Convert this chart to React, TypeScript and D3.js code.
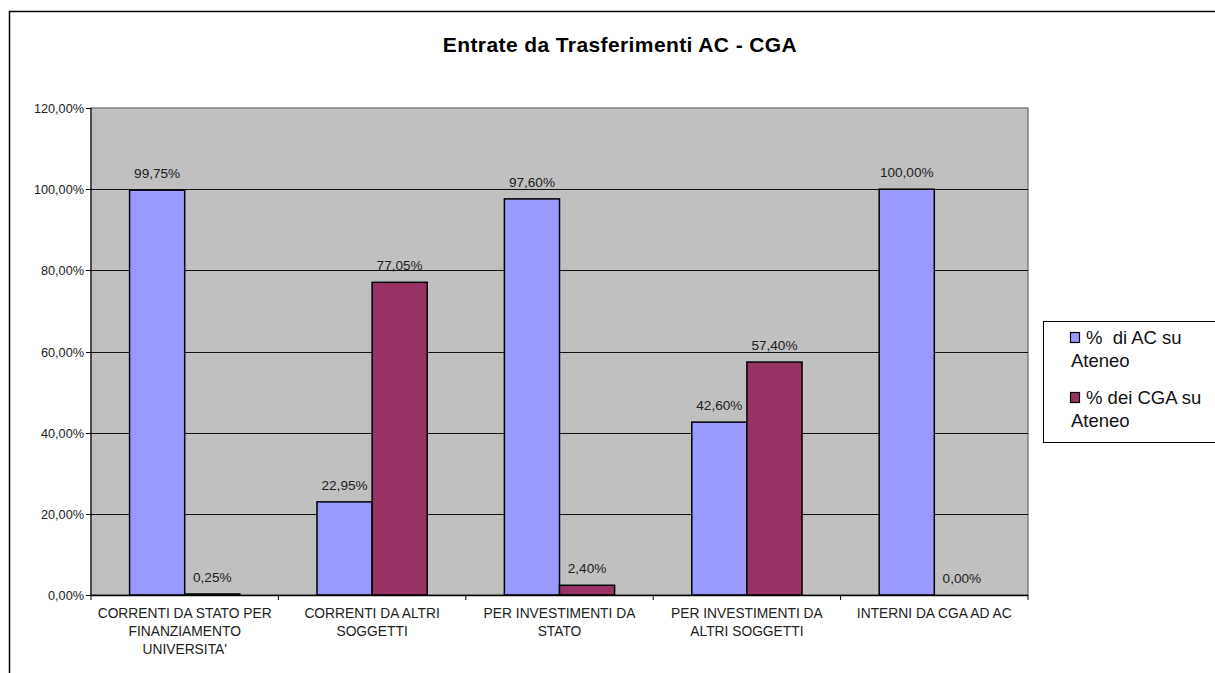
import { useEffect, useRef } from 'react';
import * as d3 from 'd3';

const categories = [
  'CORRENTI DA STATO PER FINANZIAMENTO UNIVERSITA\'',
  'CORRENTI DA ALTRI SOGGETTI',
  'PER INVESTIMENTI DA STATO',
  'PER INVESTIMENTI DA ALTRI SOGGETTI',
  'INTERNI DA CGA AD AC',
];
const categoryLines = [
  ['CORRENTI DA STATO PER', 'FINANZIAMENTO', 'UNIVERSITA\''],
  ['CORRENTI DA ALTRI', 'SOGGETTI'],
  ['PER INVESTIMENTI DA', 'STATO'],
  ['PER INVESTIMENTI DA', 'ALTRI SOGGETTI'],
  ['INTERNI DA CGA AD AC'],
];
const seriesNames = ['% di AC su Ateneo', '% dei CGA su Ateneo'];
const legendLines = [['%  di AC su', 'Ateneo'], ['% dei CGA su', 'Ateneo']];
const acValues = [99.75, 22.95, 97.6, 42.6, 100.0];
const cgaValues = [0.25, 77.05, 2.4, 57.4, 0.0];
const yTicks = [0, 20, 40, 60, 80, 100, 120];

const COLORS = ['#9999ff', '#993366'];
const FONT = 'Arial, "Liberation Sans", sans-serif';

const fmt = (v: number) => v.toFixed(2).replace('.', ',') + '%';

export default function App() {
  const svgRef = useRef<SVGSVGElement>(null);

  useEffect(() => {
    if (!svgRef.current) return;
    const width = 1215;
    const height = 673;
    const svg = d3.select(svgRef.current);
    svg.selectAll('*').remove();
    svg.attr('width', width).attr('height', height).style('font-family', FONT);

    // outer chart frame
    svg.append('rect')
      .attr('x', 9.5).attr('y', 11.5)
      .attr('width', 1220).attr('height', 680)
      .attr('fill', '#fff').attr('stroke', '#000').attr('stroke-width', 1.5);

    svg.append('text')
      .attr('x', 620).attr('y', 52)
      .attr('text-anchor', 'middle')
      .attr('font-size', 21).attr('font-weight', 'bold')
      .attr('letter-spacing', 0.4)
      .text('Entrate da Trasferimenti AC - CGA');

    const plot = { left: 91, right: 1028, top: 108, bottom: 595 };

    const x = d3.scaleBand<string>()
      .domain(categories)
      .range([plot.left, plot.right]);
    const xInner = d3.scaleBand<number>()
      .domain([0, 1])
      .range([0, x.bandwidth()])
      .paddingOuter(0.7);
    const y = d3.scaleLinear().domain([0, 120]).range([plot.bottom, plot.top]);

    svg.append('rect')
      .attr('x', plot.left).attr('y', plot.top)
      .attr('width', plot.right - plot.left).attr('height', plot.bottom - plot.top)
      .attr('fill', '#c0c0c0').attr('stroke', '#808080').attr('stroke-width', 1.5);

    // gridlines
    svg.append('g')
      .selectAll('line')
      .data(yTicks.filter(t => t > 0 && t < 120))
      .enter()
      .append('line')
      .attr('x1', plot.left).attr('x2', plot.right)
      .attr('y1', d => Math.round(y(d)) + 0.5).attr('y2', d => Math.round(y(d)) + 0.5)
      .attr('stroke', '#111').attr('stroke-width', 1);

    // bars
    const series = [acValues, cgaValues];
    series.forEach((vals, si) => {
      svg.append('g')
        .selectAll('rect')
        .data(vals)
        .enter()
        .append('rect')
        .attr('x', (_, i) => x(categories[i])! + xInner(si)!)
        .attr('y', d => y(d))
        .attr('width', xInner.bandwidth())
        .attr('height', d => plot.bottom - y(d))
        .attr('fill', COLORS[si])
        .attr('stroke', '#000').attr('stroke-width', 1.5);

      svg.append('g')
        .selectAll('text')
        .data(vals)
        .enter()
        .append('text')
        .attr('x', (_, i) => x(categories[i])! + xInner(si)! + xInner.bandwidth() / 2)
        .attr('y', d => y(d) - 12)
        .attr('text-anchor', 'middle')
        .attr('font-size', 13.6).attr('fill', '#222')
        .text(d => fmt(d));
    });

    // y axis
    const yAxis = svg.append('g');
    yAxis.append('line')
      .attr('x1', plot.left).attr('x2', plot.left)
      .attr('y1', plot.top).attr('y2', plot.bottom)
      .attr('stroke', '#000');
    yTicks.forEach(t => {
      const yy = Math.round(y(t)) + 0.5;
      yAxis.append('line')
        .attr('x1', plot.left - 5).attr('x2', plot.left)
        .attr('y1', yy).attr('y2', yy).attr('stroke', '#000');
      yAxis.append('text')
        .attr('x', plot.left - 7).attr('y', yy + 4.5)
        .attr('text-anchor', 'end')
        .attr('font-size', 12.7).attr('fill', '#222')
        .text(fmt(t));
    });

    // x axis
    const xAxis = svg.append('g');
    xAxis.append('line')
      .attr('x1', plot.left).attr('x2', plot.right)
      .attr('y1', plot.bottom + 0.5).attr('y2', plot.bottom + 0.5)
      .attr('stroke', '#000').attr('stroke-width', 1.5);
    const boundaries = categories.map(c => x(c)!).concat([plot.right]);
    boundaries.forEach(b => {
      xAxis.append('line')
        .attr('x1', b).attr('x2', b)
        .attr('y1', plot.bottom).attr('y2', plot.bottom + 5)
        .attr('stroke', '#000');
    });
    categories.forEach((c, i) => {
      const t = xAxis.append('text')
        .attr('x', x(c)! + x.bandwidth() / 2)
        .attr('y', 618)
        .attr('text-anchor', 'middle')
        .attr('font-size', 13.8).attr('fill', '#222');
      categoryLines[i].forEach((line, li) => {
        t.append('tspan')
          .attr('x', x(c)! + x.bandwidth() / 2)
          .attr('dy', li === 0 ? 0 : 18)
          .text(line);
      });
    });

    // legend
    const legend = svg.append('g');
    legend.append('rect')
      .attr('x', 1043.5).attr('y', 321.5)
      .attr('width', 200).attr('height', 121)
      .attr('fill', '#fff').attr('stroke', '#000').attr('stroke-width', 1);
    seriesNames.forEach((name, i) => {
      const top = 332 + i * 60;
      legend.append('rect')
        .attr('x', 1070.5).attr('y', top + 0.5)
        .attr('width', 9).attr('height', 10)
        .attr('fill', COLORS[i]).attr('stroke', '#000').attr('stroke-width', 1.2);
      const t = legend.append('text')
        .attr('x', 1086).attr('y', top + 12)
        .attr('font-size', 18.5).attr('fill', '#111')
        .attr('aria-label', name);
      legendLines[i].forEach((line, li) => {
        t.append('tspan')
          .attr('x', li === 0 ? 1086 : 1071)
          .attr('dy', li === 0 ? 0 : 23)
          .attr('xml:space', 'preserve')
          .text(line);
      });
    });
  }, []);

  return (
    <div style={{ position: 'absolute', left: 0, top: 0 }}>
      <svg ref={svgRef}></svg>
    </div>
  );
}
